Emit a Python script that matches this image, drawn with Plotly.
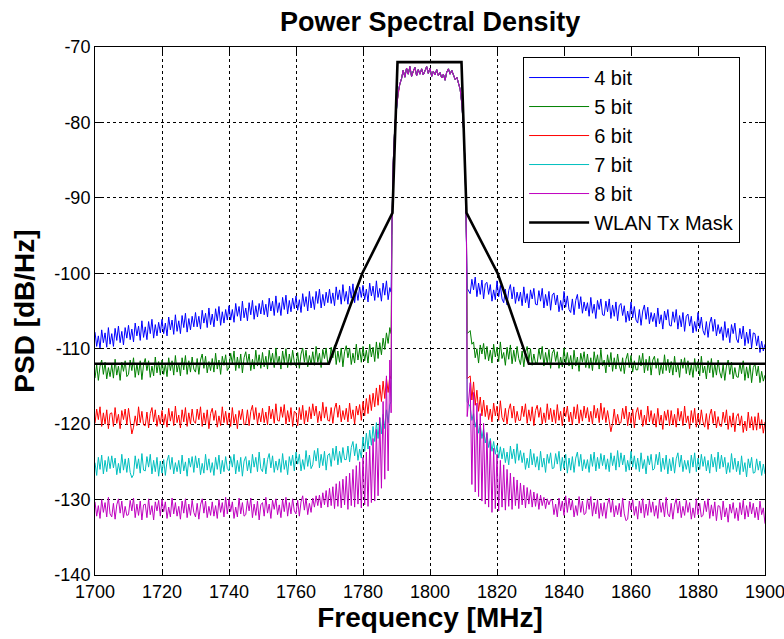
import plotly.graph_objects as go

# ---------------- data ----------------
series_names = ["4 bit", "5 bit", "6 bit", "7 bit", "8 bit"]
series_colors = ["#0000FF", "#008000", "#FF0000", "#00BFBF", "#BF00BF"]

# sampling grid outside the band (MHz), 0.5 MHz steps
left_freq = [1700 + 0.5 * i for i in range(177)]    # 1700 .. 1788
right_freq = [1812 + 0.5 * i for i in range(177)]   # 1812 .. 1900

# edge points where each trace drops vertically into the band
edge_left_freq = 1788.4
edge_right_freq = 1811.1

# shared in-band signal
band_freq = [1788.6, 1789.0, 1789.5, 1790.0, 1790.5, 1791.0, 1791.5, 1792.0, 1792.5,
             1793.0, 1793.5, 1794.0, 1794.5, 1795.0, 1795.5, 1796.0, 1796.5, 1797.0,
             1797.5, 1798.0, 1798.5, 1799.0, 1799.5, 1800.0, 1800.5, 1801.0, 1801.5,
             1802.0, 1802.5, 1803.0, 1803.5, 1804.0, 1804.5, 1805.0, 1805.5, 1806.0,
             1806.5, 1807.0, 1807.5, 1808.0, 1808.5, 1809.0, 1809.5, 1810.0, 1810.5,
             1810.9]
band_psd = [-95.0, -85.5, -80.5, -77.8, -76.0, -74.9, -74.2, -73.1, -74.0,
            -72.8, -73.6, -72.6, -73.9, -73.2, -72.7, -73.8, -73.0, -73.6,
            -72.9, -73.7, -73.1, -72.6, -73.5, -72.8, -73.9, -73.2, -73.7,
            -73.0, -73.8, -73.4, -74.1, -73.6, -74.4, -73.3, -72.9, -73.6,
            -73.1, -73.8, -74.3, -74.0, -74.8, -75.6, -77.5, -80.8, -86.0,
            -96.0]

bit4_left = [
    -107.8, -109.7, -108.3, -110.0, -107.5, -109.2, -107.9, -109.8, -107.2, -109.4,
    -108.0, -109.7, -107.3, -108.9, -107.0, -109.2, -107.7, -109.5, -107.2, -108.6,
    -106.9, -108.8, -107.4, -109.1, -106.6, -108.3, -107.0, -108.9, -106.3, -108.5,
    -107.1, -108.8, -106.4, -108.0, -106.1, -108.6, -106.8, -108.3, -106.5, -107.9,
    -106.1, -108.0, -106.6, -108.3, -105.8, -107.5, -106.2, -108.1, -105.5, -107.7,
    -106.3, -108.0, -105.6, -107.2, -105.3, -107.8, -106.0, -107.5, -105.7, -107.1,
    -105.2, -107.1, -105.7, -107.4, -104.9, -106.6, -105.3, -107.2, -104.6, -106.8,
    -105.4, -107.1, -104.7, -106.3, -104.4, -106.9, -105.1, -106.6, -104.8, -106.2,
    -104.3, -106.2, -104.8, -106.5, -104.0, -105.7, -104.4, -106.3, -103.7, -105.9,
    -104.6, -106.3, -103.9, -105.5, -103.6, -106.1, -104.3, -105.8, -104.0, -105.4,
    -103.6, -105.5, -104.1, -105.8, -103.3, -105.0, -103.7, -105.6, -103.0, -105.2,
    -103.9, -105.6, -103.2, -104.8, -102.9, -105.4, -103.6, -105.1, -103.3, -104.7,
    -103.0, -104.9, -103.5, -105.2, -102.7, -104.4, -103.1, -105.0, -102.4, -104.6,
    -103.1, -104.8, -102.4, -104.0, -102.1, -104.6, -102.8, -104.3, -102.5, -103.9,
    -102.1, -104.0, -102.6, -104.3, -101.8, -103.5, -102.2, -104.1, -101.5, -103.7,
    -102.4, -104.1, -101.7, -103.3, -101.4, -103.9, -102.1, -103.6, -101.8, -103.2,
    -101.6, -103.5, -102.1, -103.8, -101.3, -103.0, -101.7, -103.6, -101.0, -103.2,
    -102.0, -103.7, -101.3, -102.9, -101.0, -103.5, -101.9]
bit4_right = [
    -102.7, -100.8, -102.2, -100.5, -103.1, -101.3, -102.8, -100.9, -103.4, -101.4,
    -101.2, -102.8, -101.5, -103.7, -102.2, -103.5, -101.0, -103.1, -101.6, -103.4,
    -103.9, -102.1, -104.2, -102.3, -101.5, -103.4, -101.8, -104.0, -102.5, -103.7,
    -102.5, -104.3, -101.8, -103.9, -102.7, -104.6, -102.2, -103.4, -102.0, -104.1,
    -104.2, -102.3, -103.7, -102.0, -104.6, -102.8, -104.3, -102.4, -104.9, -102.9,
    -102.6, -104.2, -102.9, -105.1, -103.6, -104.9, -102.4, -104.5, -103.0, -104.8,
    -105.2, -103.4, -105.5, -103.6, -102.8, -104.7, -103.1, -105.3, -103.8, -105.0,
    -103.9, -105.7, -103.2, -105.3, -104.1, -106.0, -103.6, -104.8, -103.4, -105.5,
    -105.6, -103.7, -105.1, -103.4, -106.0, -104.2, -105.7, -103.8, -106.3, -104.3,
    -104.0, -105.6, -104.3, -106.5, -105.0, -106.3, -103.8, -105.9, -104.4, -106.2,
    -106.6, -104.8, -106.9, -105.0, -104.2, -106.1, -104.5, -106.7, -105.2, -106.4,
    -105.3, -107.1, -104.6, -106.7, -105.5, -107.4, -105.0, -106.2, -104.8, -106.9,
    -107.0, -105.1, -106.5, -104.8, -107.4, -105.6, -107.1, -105.2, -107.7, -105.7,
    -105.4, -107.0, -105.7, -107.9, -106.4, -107.7, -105.2, -107.3, -105.8, -107.6,
    -108.2, -106.4, -108.5, -106.6, -105.8, -107.7, -106.1, -108.3, -106.8, -108.0,
    -107.1, -108.9, -106.4, -108.5, -107.3, -109.2, -106.8, -108.0, -106.6, -108.7,
    -109.2, -107.3, -108.7, -107.0, -109.6, -107.8, -109.3, -107.4, -109.9, -107.9,
    -108.0, -109.6, -108.3, -110.5, -109.0, -110.3, -109.4]

bit5_left = [
    -113.9, -112.1, -114.2, -112.3, -111.5, -113.4, -111.8, -114.0, -112.5, -113.7,
    -112.1, -113.9, -111.4, -113.5, -112.3, -114.2, -111.8, -113.0, -111.6, -113.7,
    -113.4, -111.5, -112.9, -111.2, -113.8, -112.0, -113.5, -111.6, -114.1, -112.1,
    -111.3, -112.9, -111.6, -113.8, -112.3, -113.6, -111.1, -113.2, -111.7, -113.5,
    -111.5, -113.4, -112.0, -113.7, -111.2, -112.9, -111.6, -113.5, -110.9, -113.1,
    -111.9, -113.6, -111.2, -112.8, -110.9, -113.4, -111.6, -113.1, -111.1, -112.7,
    -113.1, -111.3, -113.4, -111.5, -110.7, -112.6, -111.0, -113.2, -111.7, -112.9,
    -111.3, -113.1, -110.6, -112.7, -111.5, -113.4, -111.0, -112.2, -110.8, -112.9,
    -112.5, -110.6, -112.0, -110.3, -112.9, -111.1, -112.6, -110.7, -113.2, -111.2,
    -110.4, -112.0, -110.7, -112.9, -111.4, -112.7, -110.2, -112.3, -110.8, -112.6,
    -110.5, -112.4, -111.0, -112.7, -110.2, -111.9, -110.6, -112.5, -109.9, -112.1,
    -111.0, -112.7, -110.3, -111.9, -110.0, -112.5, -110.7, -112.2, -110.2, -111.8,
    -112.3, -110.5, -112.6, -110.7, -109.9, -111.8, -110.2, -112.4, -110.9, -112.1,
    -110.4, -112.2, -109.7, -111.8, -110.6, -112.5, -110.1, -111.3, -109.9, -112.0,
    -111.7, -109.8, -111.2, -109.5, -112.1, -110.3, -111.8, -109.9, -112.4, -110.4,
    -109.6, -111.2, -109.9, -112.1, -110.6, -111.9, -109.4, -111.5, -110.0, -111.8,
    -109.7, -111.6, -110.2, -111.9, -109.4, -111.1, -109.8, -111.7, -109.1, -111.3,
    -109.2, -110.8, -108.6, -110.1, -107.9, -109.3, -107.2]
bit5_right = [
    -107.6, -109.4, -109.1, -111.2, -110.0, -111.9, -109.5, -110.7, -109.3, -111.4,
    -109.7, -111.6, -110.2, -111.9, -109.4, -111.1, -109.8, -111.7, -109.1, -111.3,
    -110.5, -112.2, -109.8, -111.4, -109.5, -112.0, -110.2, -111.7, -109.7, -111.3,
    -112.1, -110.3, -112.4, -110.5, -109.7, -111.6, -110.0, -112.2, -110.7, -111.9,
    -111.9, -110.0, -111.4, -109.7, -112.3, -110.5, -112.0, -110.1, -112.6, -110.6,
    -110.1, -111.7, -110.4, -112.6, -111.1, -112.4, -109.9, -112.0, -110.5, -112.3,
    -110.9, -112.7, -110.2, -112.3, -111.1, -113.0, -110.6, -111.8, -110.4, -112.5,
    -110.7, -112.6, -111.2, -112.9, -110.4, -112.1, -110.8, -112.7, -110.1, -112.3,
    -111.5, -113.2, -110.8, -112.4, -110.5, -113.0, -111.2, -112.7, -110.7, -112.3,
    -113.0, -111.2, -113.3, -111.4, -110.6, -112.5, -110.9, -113.1, -111.6, -112.8,
    -112.8, -110.9, -112.3, -110.6, -113.2, -111.4, -112.9, -111.0, -113.5, -111.5,
    -111.0, -112.6, -111.3, -113.5, -112.0, -113.3, -110.8, -112.9, -111.4, -113.2,
    -111.7, -113.5, -111.0, -113.1, -111.9, -113.8, -111.4, -112.6, -111.2, -113.3,
    -111.6, -113.5, -112.1, -113.8, -111.3, -113.0, -111.7, -113.6, -111.0, -113.2,
    -112.3, -114.0, -111.6, -113.2, -111.3, -113.8, -112.0, -113.5, -111.5, -113.1,
    -113.9, -112.1, -114.2, -112.3, -111.5, -113.4, -111.8, -114.0, -112.5, -113.7,
    -113.8, -111.9, -113.3, -111.6, -114.2, -112.4, -113.9, -112.0, -114.5, -112.5,
    -112.0, -113.6, -112.3, -114.5, -113.0, -114.3, -113.5]

bit6_left = [
    -119.9, -118.0, -119.4, -117.7, -120.3, -118.5, -120.0, -118.1, -120.6, -118.6,
    -118.5, -120.3, -117.8, -119.9, -118.7, -120.6, -118.2, -119.4, -118.0, -120.1,
    -117.9, -119.5, -121.3, -120.4, -118.9, -120.2, -117.7, -119.8, -118.3, -120.1,
    -120.2, -118.4, -120.5, -118.6, -117.8, -119.7, -118.1, -120.3, -118.8, -120.0,
    -118.2, -120.1, -118.7, -120.4, -117.9, -119.6, -118.3, -120.2, -117.6, -119.8,
    -118.8, -120.5, -118.1, -119.7, -117.8, -120.3, -118.5, -120.0, -118.0, -119.6,
    -119.9, -118.0, -119.4, -117.7, -120.3, -118.5, -120.0, -118.1, -120.6, -118.6,
    -117.9, -119.5, -118.2, -120.4, -118.9, -120.2, -117.7, -119.8, -118.3, -120.1,
    -118.5, -120.3, -117.8, -119.9, -118.7, -120.6, -118.2, -119.4, -118.0, -120.1,
    -119.9, -118.1, -120.2, -118.3, -117.5, -119.4, -117.8, -120.0, -118.5, -119.7,
    -117.9, -119.8, -118.4, -120.1, -117.6, -119.3, -118.0, -119.9, -117.3, -119.5,
    -119.6, -117.7, -119.1, -117.4, -120.0, -118.2, -119.7, -117.8, -120.3, -118.3,
    -118.5, -120.2, -117.8, -119.4, -117.5, -120.0, -118.2, -119.7, -117.7, -119.3,
    -117.3, -118.9, -117.6, -119.8, -118.3, -119.6, -117.1, -119.2, -117.7, -119.5,
    -119.6, -117.8, -119.9, -118.0, -117.2, -119.1, -117.5, -119.7, -118.2, -119.4,
    -117.9, -119.7, -117.2, -119.3, -118.1, -120.0, -117.6, -118.8, -117.4, -119.5,
    -117.0, -118.9, -116.6, -118.6, -116.1, -118.2, -115.9, -117.7, -115.2, -117.5,
    -114.8, -117.0, -114.3, -116.6, -113.9, -115.8, -113.6]
bit6_right = [
    -113.6, -116.8, -114.4, -117.5, -115.5, -118.3, -116.4, -118.9, -116.8, -119.0,
    -117.5, -119.4, -118.0, -119.7, -117.2, -118.9, -117.6, -119.5, -116.9, -119.1,
    -119.7, -117.9, -120.0, -118.1, -117.3, -119.2, -117.6, -119.8, -118.3, -119.5,
    -119.5, -117.6, -119.0, -117.3, -119.9, -118.1, -119.6, -117.7, -120.2, -118.2,
    -117.5, -119.1, -117.8, -120.0, -118.5, -119.8, -117.3, -119.4, -117.9, -119.7,
    -118.1, -119.9, -117.4, -119.5, -118.3, -120.2, -117.8, -119.0, -117.6, -119.7,
    -118.4, -120.1, -117.7, -119.3, -117.4, -119.9, -118.1, -119.6, -117.6, -119.2,
    -117.8, -119.7, -118.3, -120.0, -117.5, -119.2, -117.9, -119.8, -117.2, -119.4,
    -117.8, -119.8, -118.2, -119.6, -121.0, -119.9, -118.0, -120.1, -118.7, -119.9,
    -119.8, -117.9, -119.3, -117.6, -120.2, -118.4, -119.9, -118.0, -120.5, -118.5,
    -117.8, -119.4, -118.1, -120.3, -118.8, -120.1, -117.6, -119.7, -118.2, -120.0,
    -118.6, -120.4, -117.9, -120.0, -118.8, -120.7, -118.3, -119.5, -118.1, -120.2,
    -118.2, -120.1, -118.7, -120.4, -117.9, -119.6, -118.3, -120.2, -117.6, -119.8,
    -118.9, -120.6, -118.2, -119.8, -117.9, -120.4, -118.6, -120.1, -118.1, -119.7,
    -120.4, -118.6, -120.7, -118.8, -118.0, -119.9, -118.3, -120.5, -119.0, -120.2,
    -120.3, -118.4, -119.8, -118.1, -120.7, -118.9, -120.4, -118.5, -121.0, -119.0,
    -118.6, -120.2, -118.9, -121.1, -119.6, -120.9, -118.4, -120.5, -119.0, -120.8,
    -119.0, -120.8, -118.5, -120.6, -119.4, -121.2, -119.7]

bit7_left = [
    -125.1, -126.8, -124.4, -126.0, -124.1, -126.6, -124.8, -126.3, -124.3, -125.9,
    -124.2, -125.8, -124.5, -126.7, -125.2, -126.5, -124.0, -126.1, -124.6, -126.4,
    -124.5, -126.4, -127.1, -126.7, -124.2, -125.9, -124.6, -126.5, -123.9, -126.1,
    -126.2, -124.3, -125.7, -124.0, -126.6, -124.8, -126.3, -124.4, -126.9, -124.9,
    -126.5, -124.7, -126.8, -124.9, -124.1, -126.0, -124.4, -126.6, -125.1, -126.3,
    -124.8, -126.6, -124.1, -126.2, -125.0, -126.9, -124.5, -125.7, -124.3, -126.4,
    -124.2, -125.8, -124.5, -126.7, -125.2, -126.5, -124.0, -126.1, -124.6, -126.4,
    -125.1, -126.8, -124.4, -126.0, -124.1, -126.6, -124.8, -126.3, -124.3, -125.9,
    -126.2, -124.3, -125.7, -124.0, -126.6, -124.8, -126.3, -124.4, -126.9, -124.9,
    -124.3, -126.2, -124.8, -126.5, -124.0, -125.7, -124.4, -126.3, -123.7, -125.9,
    -126.3, -124.5, -126.6, -124.7, -123.9, -125.8, -124.2, -126.4, -124.9, -126.1,
    -124.6, -126.4, -123.9, -126.0, -124.8, -126.7, -124.3, -125.5, -124.1, -126.2,
    -123.7, -125.3, -124.0, -126.2, -124.7, -126.0, -123.5, -125.6, -124.1, -125.9,
    -125.4, -123.5, -124.9, -123.2, -125.8, -124.0, -125.5, -123.6, -126.1, -124.1,
    -123.9, -125.6, -123.2, -124.8, -122.9, -125.4, -123.6, -125.1, -123.1, -124.7,
    -124.7, -122.9, -125.0, -123.1, -122.3, -124.2, -122.6, -124.8, -123.3, -124.5,
    -121.7, -123.6, -121.2, -123.3, -120.8, -122.8, -120.3, -122.3, -119.8, -121.9,
    -119.2, -121.3, -118.7, -120.6, -118.1, -119.8, -117.4]
bit7_right = [
    -117.7, -119.5, -118.6, -120.4, -119.4, -121.2, -120.1, -121.9, -120.6, -122.5,
    -121.3, -123.1, -121.9, -123.6, -122.3, -124.0, -122.8, -124.5, -123.0, -124.6,
    -123.2, -125.1, -123.7, -125.4, -122.9, -124.6, -123.3, -125.2, -122.6, -124.8,
    -123.5, -125.1, -123.8, -126.0, -124.5, -125.8, -123.3, -125.4, -123.9, -125.7,
    -124.3, -126.1, -123.6, -125.7, -124.5, -126.4, -124.0, -125.2, -123.8, -125.9,
    -125.8, -123.9, -125.3, -123.6, -126.2, -124.4, -125.9, -124.0, -126.5, -124.5,
    -126.1, -124.3, -126.4, -124.5, -123.7, -125.6, -124.0, -126.2, -124.7, -125.9,
    -124.7, -126.4, -124.0, -125.6, -123.7, -126.2, -124.4, -125.9, -123.9, -125.5,
    -124.1, -126.0, -124.6, -126.3, -123.8, -125.5, -124.2, -126.1, -123.5, -125.7,
    -123.8, -125.4, -124.1, -126.3, -124.8, -126.1, -123.6, -125.7, -124.2, -126.0,
    -124.5, -126.3, -123.8, -125.9, -124.7, -126.6, -124.2, -125.4, -124.0, -126.1,
    -125.9, -124.0, -125.4, -123.7, -126.3, -124.5, -126.0, -124.1, -126.6, -124.6,
    -126.2, -124.4, -126.5, -124.6, -123.8, -125.7, -124.1, -126.3, -124.8, -126.0,
    -124.8, -126.5, -124.1, -125.7, -123.8, -126.3, -124.5, -126.0, -124.0, -125.6,
    -124.3, -126.2, -124.8, -126.5, -124.0, -125.7, -124.4, -126.3, -123.7, -125.9,
    -124.1, -125.7, -124.4, -126.6, -125.1, -126.4, -123.9, -126.0, -124.5, -126.3,
    -124.9, -126.7, -124.2, -126.3, -125.1, -127.0, -124.6, -125.8, -124.4, -126.5,
    -126.4, -124.6, -126.1, -124.9, -126.8, -125.3, -126.6]

bit8_left = [
    -130.3, -132.2, -130.8, -132.5, -130.0, -131.7, -130.4, -132.3, -129.7, -131.9,
    -132.3, -130.5, -132.6, -130.7, -129.9, -131.8, -130.2, -132.4, -130.9, -132.1,
    -132.0, -130.1, -131.5, -129.8, -132.4, -130.6, -132.1, -130.2, -132.7, -130.7,
    -130.6, -132.4, -129.9, -132.0, -130.8, -132.7, -130.3, -131.5, -130.1, -132.2,
    -130.0, -131.6, -130.3, -132.5, -131.0, -132.3, -129.8, -131.9, -130.4, -132.2,
    -130.9, -132.6, -130.2, -131.8, -129.9, -132.4, -130.6, -132.1, -130.1, -131.7,
    -132.3, -130.5, -132.6, -130.7, -129.9, -131.8, -130.2, -132.4, -130.9, -132.1,
    -130.3, -132.2, -130.8, -132.5, -130.0, -131.7, -130.4, -132.3, -129.7, -131.9,
    -130.0, -131.6, -130.3, -132.5, -131.0, -132.3, -129.8, -131.9, -130.4, -132.2,
    -132.0, -130.1, -131.5, -129.8, -132.4, -130.6, -132.1, -130.2, -132.7, -130.7,
    -130.4, -132.2, -129.7, -131.8, -130.6, -132.5, -130.1, -131.3, -129.9, -132.0,
    -130.7, -132.4, -130.0, -131.6, -129.7, -132.2, -130.4, -131.9, -129.9, -131.5,
    -131.9, -130.1, -132.2, -130.3, -129.5, -131.4, -129.8, -132.0, -130.5, -131.7,
    # 1765 .. 1788: sidelobe spikes
    -129.8, -131.0, -129.5, -130.8, -129.4, -131.1, -129.1, -130.7, -128.8, -131.0,
    -128.5, -130.8, -128.3, -131.2, -127.9, -130.9, -127.6, -131.1, -127.3, -130.7,
    -126.9, -131.3, -126.5, -130.8, -126.0, -131.0, -125.5, -130.6, -125.0, -131.1,
    -124.4, -130.7, -123.7, -130.9, -122.9, -130.4, -121.9, -130.2, -120.7, -129.5,
    -119.1, -128.5, -117.0, -127.3, -113.6, -126.2, -111.5]
bit8_right = [
    # 1812 .. 1836: sidelobe spikes
    -114.5, -128.0, -115.8, -129.0, -117.2, -129.6, -118.6, -130.2, -119.9, -130.6,
    -121.1, -131.0, -122.2, -131.7, -123.2, -131.2, -124.0, -131.5, -124.8, -131.0,
    -125.4, -131.4, -126.0, -130.9, -126.5, -131.3, -127.0, -130.8, -127.4, -131.2,
    -127.8, -130.7, -128.1, -131.1, -128.4, -130.6, -128.7, -131.0, -129.0, -130.9,
    -129.2, -131.3, -129.4, -130.8, -129.7, -131.2, -129.9, -130.7, -130.0,
    # 1836.5 .. 1900
    -130.1, -132.0, -130.6, -132.3, -129.8, -131.5, -130.2, -132.1, -129.5, -131.7,
    -129.8, -131.4, -130.1, -132.3, -130.8, -132.1, -129.6, -131.7, -130.2, -132.0,
    -131.8, -129.9, -131.3, -129.6, -132.2, -130.4, -131.9, -130.0, -132.5, -130.5,
    -132.2, -130.4, -132.5, -130.6, -129.8, -131.7, -130.1, -132.3, -130.8, -132.0,
    -130.5, -132.3, -129.8, -131.9, -132.8, -132.6, -130.2, -131.4, -130.0, -132.1,
    -130.9, -132.6, -130.2, -131.8, -129.9, -132.4, -130.6, -132.1, -130.1, -131.7,
    -130.3, -132.2, -130.8, -132.5, -130.0, -131.7, -130.4, -132.3, -129.7, -131.9,
    -132.3, -130.5, -132.6, -130.7, -129.9, -131.8, -130.2, -132.4, -130.9, -132.1,
    -130.1, -131.7, -130.4, -132.6, -131.1, -132.4, -129.9, -132.0, -130.5, -132.3,
    -132.1, -130.2, -131.6, -129.9, -132.5, -130.7, -132.2, -130.3, -132.8, -130.8,
    -130.9, -132.7, -130.2, -132.3, -131.1, -133.0, -130.6, -131.8, -130.4, -132.5,
    -131.1, -132.8, -130.4, -132.0, -130.1, -132.6, -130.8, -132.3, -130.3, -131.9,
    -130.5, -132.4, -131.0, -132.7, -130.2, -132.0, -131.1, -133.2]

# bottom of the vertical band edges for each series (left, right)
edge_left_psd = [-102.5, -108.0, -114.0, -117.0, -118.5]
edge_right_psd = [-102.0, -108.0, -114.0, -117.0, -119.0]

mask_freq = [1700, 1769.8, 1779.8, 1788.8, 1790.3, 1809.4, 1810.9, 1820.2, 1829.5, 1900]
mask_psd = [-112, -112, -100, -92, -72, -72, -92, -100, -112, -112]

x_ticks = [1700, 1720, 1740, 1760, 1780, 1800, 1820, 1840, 1860, 1880, 1900]
y_ticks = [-140, -130, -120, -110, -100, -90, -80, -70]

# ---------------- figure ----------------
lefts = [bit4_left, bit5_left, bit6_left, bit7_left, bit8_left]
rights = [bit4_right, bit5_right, bit6_right, bit7_right, bit8_right]

FONT = "Liberation Sans, Arial, Helvetica, sans-serif"
fig = go.Figure()
for i, name in enumerate(series_names):
    assert len(left_freq) == len(lefts[i]), (name, len(lefts[i]))
    assert len(right_freq) == len(rights[i]), (name, len(rights[i]))
    xs = left_freq + [edge_left_freq] + band_freq + [edge_right_freq] + right_freq
    ys = lefts[i] + [edge_left_psd[i]] + band_psd + [edge_right_psd[i]] + rights[i]
    fig.add_trace(go.Scatter(x=xs, y=ys, mode="lines", name=name, legendgroup=name,
                             line=dict(color=series_colors[i], width=1)))

fig.add_trace(go.Scatter(x=mask_freq, y=mask_psd, mode="lines", name="WLAN Tx Mask",
                         legendgroup="mask", line=dict(color="black", width=2.6)))

axis_common = dict(showline=True, linecolor="black", linewidth=1, mirror="ticks",
                   ticks="inside", ticklen=6, tickcolor="black",
                   showgrid=True, gridcolor="black", gridwidth=1, griddash="dot",
                   zeroline=False, ticklabeloverflow="allow", automargin=False,
                   tickfont=dict(family=FONT, size=18, color="black"))

fig.update_xaxes(range=[1700, 1900], tickvals=x_ticks, ticktext=[str(v) for v in x_ticks],
                 title=dict(text="<b>Frequency [MHz]</b>", font=dict(family=FONT, size=28, color="black"),
                            standoff=6),
                 **axis_common)
fig.update_yaxes(range=[-140, -70], tickvals=y_ticks, ticktext=[str(v) for v in y_ticks],
                 title=dict(text="<b>PSD [dB/Hz]</b>", font=dict(family=FONT, size=28, color="black"),
                            standoff=11),
                 **axis_common)

fig.update_layout(
    width=784, height=639,
    margin=dict(l=95, r=19, t=47, b=64),
    paper_bgcolor="white", plot_bgcolor="white",
    title=dict(text="<b>Power Spectral Density</b>", x=0.5486, xanchor="center",
               y=0.981, yanchor="top", font=dict(family=FONT, size=27, color="black")),
    legend=dict(x=0.639, y=0.981, xanchor="left", yanchor="top",
                bgcolor="white", bordercolor="black", borderwidth=1,
                font=dict(family=FONT, size=20, color="black"),
                tracegroupgap=5, itemwidth=60, traceorder="normal",
                entrywidth=165),
    showlegend=True,
)

fig.write_html("out.html", config={"displayModeBar": False},
               post_script="document.body.style.margin='0px';")
